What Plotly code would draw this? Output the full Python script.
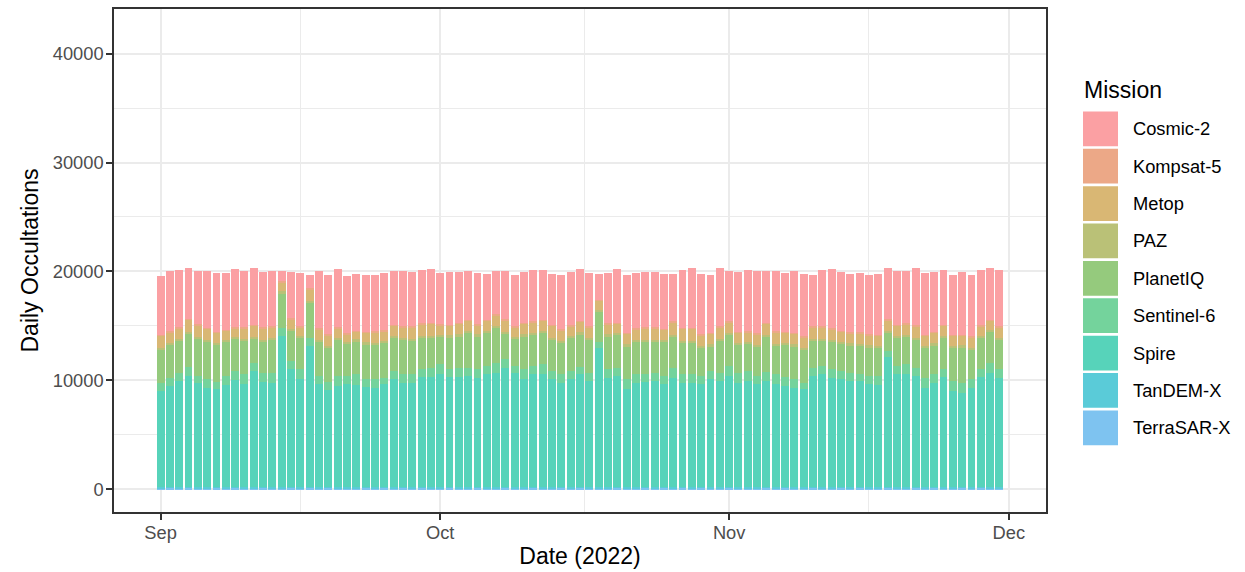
import pandas as pd
import plotly.graph_objects as go

# Daily radio-occultation counts per mission, 1 Sep - 30 Nov 2022
dates = pd.date_range("2022-09-01", "2022-11-30", freq="D")

cosmic2 = [5418, 5571, 5266, 4657, 4840, 5236, 5418, 5205, 5327, 5175,
           5175, 5053, 5114, 1005, 4201, 4870, 1218, 5236, 5479, 5327,
           5266, 5205, 5236, 5175, 5266, 4931, 5083, 5023, 4870, 4962,
           4657, 4810, 4657, 4505, 4718, 4201, 3896, 4414, 4718, 4657,
           4718, 4566, 4657, 5023, 4931, 4779, 4870, 2374, 4627, 4931,
           5327, 5023, 5114, 5114, 5023, 4353, 5327, 5479, 5571, 5327,
           5327, 4566, 5479, 5631, 5723, 4718, 5540, 5388, 5631, 5723,
           4657, 5175, 5479, 5418, 5327, 5418, 5418, 5571, 4688, 4931,
           4779, 5236, 5631, 5479, 5023, 5479, 5723, 5631, 5083, 4718,
           5175]

kompsat5 = [96, 104, 88, 112, 120, 93, 101, 85, 110, 97,
            105, 92, 118, 99, 87, 108, 114, 95, 102, 90,
            111, 98, 84, 107, 119, 94, 100, 89, 113, 96,
            103, 91, 116, 98, 86, 109, 115, 93, 101, 88,
            112, 97, 83, 106, 121, 95, 99, 90, 114, 97,
            104, 92, 117, 100, 86, 108, 113, 94, 103, 89,
            110, 99, 85, 107, 118, 93, 100, 88, 112, 96,
            105, 91, 116, 99, 87, 109, 114, 95, 102, 90,
            111, 98, 84, 106, 120, 94, 101, 89, 113, 97,
            104]

metop = [1110, 958, 958, 1110, 1079, 1018, 958, 866, 775, 958,
         1018, 1079, 958, 810, 897, 805, 1110, 1018, 958, 866,
         745, 714, 897, 958, 866, 897, 958, 1049, 1110, 1110,
         866, 897, 958, 958, 805, 958, 958, 1049, 866, 958,
         958, 958, 1110, 958, 897, 958, 958, 805, 897, 805,
         958, 1018, 1018, 1079, 958, 1110, 1110, 1110, 958, 958,
         1049, 958, 897, 897, 958, 1049, 1018, 958, 958, 958,
         1049, 1049, 958, 958, 958, 958, 958, 958, 990, 958,
         958, 1049, 958, 958, 958, 958, 897, 958, 897, 866,
         958]

paz = [162, 148, 171, 155, 139, 166, 152, 175, 143, 160,
       158, 170, 145, 163, 151, 177, 140, 165, 154, 169,
       147, 161, 173, 150, 158, 144, 168, 156, 141, 172,
       159, 149, 166, 153, 178, 142, 160, 171, 146, 163,
       155, 168, 150, 159, 140, 174, 153, 145, 166, 157,
       161, 147, 170, 152, 164, 139, 176, 158, 149, 167,
       143, 160, 172, 154, 148, 165, 151, 169, 157, 141,
       163, 175, 146, 158, 152, 170, 144, 161, 167, 150,
       156, 142, 173, 159, 147, 164, 153, 168, 145, 160,
       158]

planetiq = [3044, 3044, 2953, 3105, 3440, 3440, 3440, 3135, 3044, 3105,
            2222, 2831, 3044, 3190, 2800, 2892, 3196, 3135, 3196, 3348,
            2953, 3044, 3196, 3196, 3196, 3105, 3196, 3105, 2892, 2740,
            2587, 2953, 2892, 3196, 3044, 3044, 3257, 2344, 2527, 3044,
            2892, 2892, 2892, 2892, 3044, 3044, 3044, 2800, 3044, 3044,
            3044, 2983, 2983, 2831, 3135, 2892, 2892, 2831, 2587, 2283,
            2953, 2892, 2587, 2496, 2740, 3257, 2679, 2983, 3044, 3044,
            2496, 2344, 2527, 2496, 2527, 2587, 2648, 2587, 1650, 2587,
            2587, 2587, 2740, 2679, 2892, 3044, 3257, 2740, 2892, 2831,
            2740]

sentinel6 = [761, 761, 761, 761, 609, 761, 609, 822, 791, 852,
             761, 913, 913, 765, 761, 913, 761, 761, 700, 913,
             761, 974, 761, 822, 609, 761, 761, 761, 761, 852,
             852, 761, 852, 761, 761, 761, 913, 761, 609, 913,
             761, 852, 761, 761, 761, 609, 761, 609, 761, 761,
             913, 761, 761, 761, 761, 913, 761, 822, 761, 761,
             761, 913, 913, 913, 761, 761, 913, 761, 761, 609,
             761, 761, 761, 761, 761, 670, 700, 822, 600, 761,
             913, 761, 913, 761, 700, 913, 913, 761, 761, 913,
             761]

spire = [8856, 9312, 9769, 10225, 9617, 9160, 9008, 9404, 9830, 9525,
         10682, 9617, 9617, 13875, 10834, 9921, 12965, 9464, 8916, 9312,
         9464, 9404, 9160, 9099, 9464, 9921, 9617, 9617, 10073, 10134,
         10439, 10073, 10134, 10225, 10073, 10378, 10530, 10986, 10530, 9921,
         10378, 10439, 9921, 9617, 9921, 10378, 9769, 12752, 10073, 10225,
         9008, 9617, 9617, 9769, 9464, 10073, 9617, 9617, 9464, 9921,
         9769, 10225, 9617, 9769, 9464, 9769, 9464, 9312, 9160, 9008,
         10225, 10378, 10073, 9921, 9769, 9708, 9525, 9404, 11930, 10378,
         10378, 10225, 9160, 9617, 10134, 8856, 8703, 9160, 10073, 10530,
         10073]

tandemx = [72, 68, 75, 80, 66, 71, 77, 69, 74, 81,
           65, 73, 78, 70, 67, 76, 82, 69, 72, 75,
           64, 79, 71, 68, 74, 80, 66, 73, 77, 70,
           69, 75, 81, 67, 72, 78, 65, 71, 76, 74,
           68, 73, 79, 66, 70, 77, 83, 69, 72, 75,
           67, 71, 78, 64, 73, 80, 68, 74, 76, 70,
           66, 72, 79, 69, 75, 81, 67, 70, 77, 73,
           68, 74, 80, 65, 71, 76, 82, 69, 73, 75,
           67, 72, 78, 66, 70, 79, 68, 74, 77, 71,
           73]

terrasarx = [98, 104, 92, 110, 101, 95, 107, 99, 113, 96,
             102, 108, 94, 100, 111, 97, 105, 93, 109, 103,
             99, 95, 112, 101, 106, 91, 104, 98, 110, 100,
             96, 107, 93, 103, 109, 98, 101, 114, 95, 102,
             106, 92, 100, 108, 97, 111, 94, 103, 99, 105,
             101, 96, 112, 98, 104, 93, 107, 100, 110, 95,
             103, 109, 97, 101, 94, 106, 99, 113, 96, 102,
             108, 93, 100, 105, 98, 111, 95, 103, 107, 92,
             100, 106, 97, 110, 101, 94, 104, 99, 112, 96,
             101]

missions = ["Cosmic-2", "Kompsat-5", "Metop", "PAZ", "PlanetIQ",
            "Sentinel-6", "Spire", "TanDEM-X", "TerraSAR-X"]
series = [cosmic2, kompsat5, metop, paz, planetiq,
          sentinel6, spire, tandemx, terrasarx]
colors = ["#FBA0A3", "#ECA887", "#D9B774", "#BAC177", "#95CA7D",
          "#74D39C", "#57D3BA", "#5ACBD8", "#7EC3F0"]

y_ticks = [0, 10000, 20000, 30000, 40000]
y_minor = [5000, 15000, 25000, 35000]
x_ticks = ["2022-09-01", "2022-10-01", "2022-11-01", "2022-12-01"]
x_ticktext = ["Sep", "Oct", "Nov", "Dec"]
x_minor = ["2022-09-16", "2022-10-16 12:00", "2022-11-16"]

FONT = "Liberation Sans, Arial, Helvetica, sans-serif"
W, H = 1245, 572
PL, PR, PT, PB = 114, 1046, 7, 513

fig = go.Figure()
# stacked from the bottom up: last mission in the list sits at the base
for name, vals, col in reversed(list(zip(missions, series, colors))):
    fig.add_trace(go.Bar(x=dates, y=vals, name=name, marker_color=col,
                         marker_line_width=0, showlegend=False))

day = pd.Timedelta(days=1)
x_range = [dates[0] - 4.995 * day, dates[-1] + 4.995 * day]

axis_common = dict(
    showline=True, mirror=True, linecolor="#333333", linewidth=1.5,
    ticks="outside", ticklen=6, tickwidth=1.5, tickcolor="#333333",
    tickfont=dict(family=FONT, size=18.3, color="#4D4D4D"),
    showgrid=True, gridcolor="#EBEBEB", gridwidth=2, zeroline=False,
)

fig.update_layout(
    width=W, height=H,
    margin=dict(l=PL, r=W - PR, t=PT, b=H - PB),
    paper_bgcolor="white", plot_bgcolor="white",
    barmode="stack", bargap=0.15,
    font=dict(family=FONT, color="black"),
    xaxis=dict(
        type="date", range=x_range,
        tickmode="array", tickvals=x_ticks, ticktext=x_ticktext,
        ticklabelstandoff=-3,
        minor=dict(tickmode="array", tickvals=x_minor, showgrid=True,
                   gridcolor="#EBEBEB", gridwidth=1, ticks=""),
        title=dict(text="Date (2022)", font=dict(family=FONT, size=23, color="black"),
                   standoff=6),
        **axis_common,
    ),
    yaxis=dict(
        range=[-2100, 44100],
        tickmode="array", tickvals=y_ticks, ticktext=[str(v) for v in y_ticks],
        ticklabelstandoff=-1,
        minor=dict(tickmode="array", tickvals=y_minor, showgrid=True,
                   gridcolor="#EBEBEB", gridwidth=1, ticks=""),
        title=dict(text="Daily Occultations", font=dict(family=FONT, size=23, color="black"),
                   standoff=8),
        **axis_common,
    ),
)


def px_x(px):
    return (px - PL) / (PR - PL)


def px_y(py):
    return (PB - py) / (PB - PT)


# legend drawn as keyed swatches to the right of the panel
fig.add_annotation(text="Mission", xref="paper", yref="paper",
                   x=px_x(1082), y=px_y(88), xanchor="left", yanchor="middle",
                   showarrow=False, font=dict(family=FONT, size=23, color="black"))
key_top, key_step, key_size = 110, 37.6, 35
for k, (name, col) in enumerate(zip(missions, colors)):
    top = key_top + k * key_step
    fig.add_shape(type="rect", xref="paper", yref="paper",
                  x0=px_x(1083), x1=px_x(1083 + key_size),
                  y0=px_y(top + key_size), y1=px_y(top),
                  fillcolor=col, line_width=0, layer="above")
    fig.add_annotation(text=name, xref="paper", yref="paper",
                       x=px_x(1131), y=px_y(top + key_size / 2),
                       xanchor="left", yanchor="middle", showarrow=False,
                       font=dict(family=FONT, size=18.3, color="black"))

fig.write_html("out.html")
